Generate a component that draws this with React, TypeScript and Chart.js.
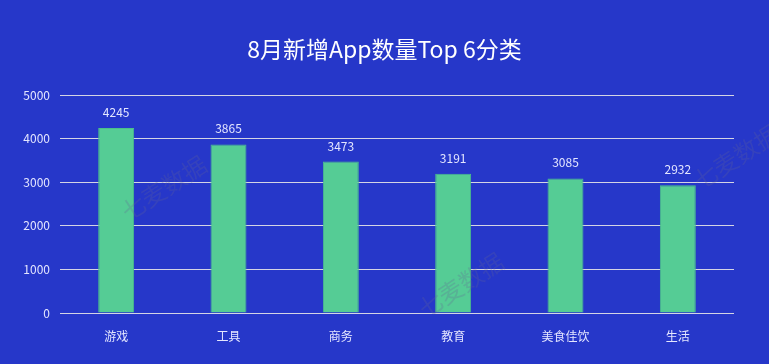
import React, { useEffect, useRef } from "react";
import { Chart, registerables } from "chart.js";

Chart.register(...registerables);

const TITLE = "8月新增App数量Top 6分类";
const categories = ["游戏", "工具", "商务", "教育", "美食佳饮", "生活"];
const values = [4245, 3865, 3473, 3191, 3085, 2932];
const yTicks = [0, 1000, 2000, 3000, 4000, 5000];
const watermarkText = "七麦数据";

const FONT = "'Noto Sans CJK SC', 'Noto Sans', sans-serif";
const BG = "#2637c9";

const decorPlugin = {
  id: "decor",
  beforeDraw(chart: any) {
    const { ctx, width, height } = chart;
    ctx.save();
    ctx.fillStyle = BG;
    ctx.fillRect(0, 0, width, height);
    ctx.restore();
  },
  afterDatasetsDraw(chart: any) {
    const { ctx } = chart;
    ctx.save();
    // title
    ctx.fillStyle = "#ffffff";
    ctx.font = `23px ${FONT}`;
    ctx.textAlign = "center";
    ctx.textBaseline = "middle";
    ctx.fillText(TITLE, chart.width / 2, 49);
    // value labels
    const meta = chart.getDatasetMeta(0);
    ctx.font = `12px ${FONT}`;
    ctx.fillStyle = "#e4e6ff";
    ctx.textBaseline = "alphabetic";
    meta.data.forEach((bar: any, i: number) => {
      ctx.fillText(String(values[i]), bar.x, bar.y - 11);
    });
    // watermarks
    const spots = [
      [164, 188],
      [461, 285],
      [736, 157],
    ];
    ctx.font = `24px ${FONT}`;
    ctx.fillStyle = "rgba(100, 100, 150, 0.25)";
    ctx.textBaseline = "middle";
    spots.forEach(([x, y]) => {
      ctx.save();
      ctx.translate(x, y);
      ctx.rotate((-33 * Math.PI) / 180);
      ctx.fillText(watermarkText, 0, 0);
      ctx.restore();
    });
    ctx.restore();
  },
};

export default function App() {
  const ref = useRef<HTMLCanvasElement>(null);
  useEffect(() => {
    document.body.style.margin = "0";
    const chart = new Chart(ref.current!, {
      type: "bar",
      data: {
        labels: categories,
        datasets: [
          {
            data: values,
            backgroundColor: "#55cc95",
            borderColor: "#4bbf8a",
            borderWidth: 1,
            categoryPercentage: 1,
            barPercentage: 0.32,
          },
        ],
      },
      options: {
        animation: false,
        responsive: false,
        devicePixelRatio: 1,
        layout: { padding: { top: 95, right: 35, left: 0, bottom: 0 } },
        plugins: { legend: { display: false }, tooltip: { enabled: false }, title: { display: false } },
        scales: {
          x: {
            grid: { display: false },
            border: { display: false },
            ticks: { color: "#e4e6ff", font: { size: 12, family: FONT }, padding: 8 },
            afterFit: (s: any) => {
              s.height = 51;
            },
          },
          y: {
            min: 0,
            max: 5000,
            afterBuildTicks: (s: any) => {
              s.ticks = yTicks.map((v) => ({ value: v }));
            },
            grid: { color: "#d4d4e4", lineWidth: 1, drawTicks: false },
            border: { display: false },
            ticks: {
              color: "#e4e6ff",
              font: { size: 12, family: FONT },
              padding: 10,
              callback: (v: any) => String(v),
            },
            afterFit: (s: any) => {
              s.width = 60;
            },
          },
        },
      },
      plugins: [decorPlugin],
    });
    return () => chart.destroy();
  }, []);
  return (
    <div style={{ width: 769, height: 364, background: BG }}>
      <canvas ref={ref} width={769} height={364} style={{ display: "block" }} />
    </div>
  );
}
